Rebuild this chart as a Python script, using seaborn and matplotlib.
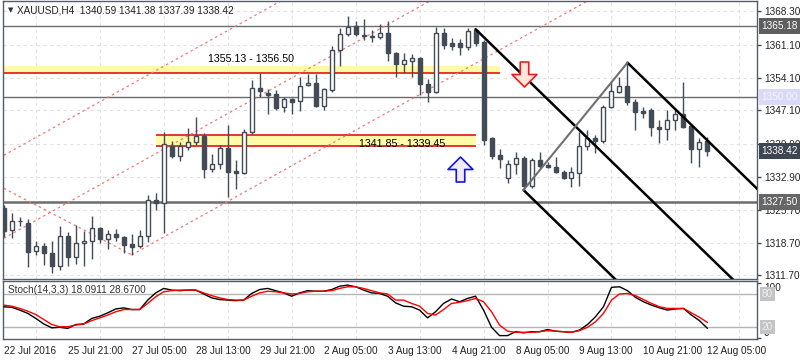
# XAUUSD H4 chart with pitchfork and stochastic panel, MT4 look.

import numpy as np
import pandas as pd
import seaborn as sns
import matplotlib
matplotlib.use('Agg')
import matplotlib.pyplot as plt
import matplotlib.transforms as mtransforms
from matplotlib.path import Path

sns.set_style('white')
plt.rcParams['font.family'] = ['Liberation Sans', 'DejaVu Sans']

symbol_title = 'XAUUSD,H4  1340.59 1341.38 1337.39 1338.42'

opens = [1326.09, 1321.43, 1323.26, 1322.87, 1316.86, 1318.00, 1316.44, 1313.78, 1320.08, 1315.58,
         1318.58, 1319.01, 1321.80, 1319.43, 1320.51, 1320.00, 1318.43, 1317.94, 1320.08, 1327.80,
         1327.16, 1339.38, 1337.37, 1339.17, 1340.24, 1341.65, 1334.45, 1335.65, 1338.95, 1334.02,
         1333.72, 1342.38, 1351.82, 1350.75, 1350.53, 1347.75, 1349.53, 1349.10, 1352.46, 1352.89,
         1348.09, 1351.46, 1360.03, 1363.40, 1365.18, 1363.25, 1363.10, 1362.76, 1363.61, 1359.33,
         1356.97, 1357.74, 1358.25, 1352.74, 1350.96, 1363.61, 1361.47, 1361.47, 1360.61, 1364.32,
         1361.81, 1341.10, 1337.52, 1332.52, 1335.59, 1336.81, 1330.93, 1336.44, 1335.37, 1334.88,
         1333.93, 1332.52, 1333.59, 1339.51, 1341.10, 1340.58, 1347.75, 1351.09, 1352.31, 1348.95,
         1346.95, 1347.17, 1343.46, 1343.03, 1345.02, 1346.24, 1343.73, 1338.74, 1340.59]
highs = [1326.79, 1325.01, 1324.28, 1323.79, 1319.14, 1318.58, 1319.14, 1322.29, 1321.07, 1322.44,
         1321.22, 1324.43, 1322.01, 1321.50, 1321.65, 1320.15, 1320.51, 1321.43, 1328.87, 1329.43,
         1342.38, 1340.58, 1340.37, 1343.24, 1345.60, 1342.17, 1337.73, 1339.66, 1343.95, 1336.44,
         1343.09, 1353.60, 1355.04, 1351.67, 1351.46, 1349.95, 1349.68, 1354.18, 1354.89, 1354.89,
         1351.88, 1360.89, 1364.75, 1367.32, 1366.32, 1366.62, 1364.32, 1365.61, 1366.32, 1359.60,
         1359.33, 1359.18, 1358.53, 1353.75, 1365.03, 1364.69, 1362.61, 1362.33, 1364.69, 1364.50,
         1362.18, 1341.38, 1338.74, 1336.44, 1338.16, 1337.30, 1336.81, 1338.09, 1336.08, 1337.15,
         1334.30, 1334.88, 1342.51, 1342.88, 1341.80, 1348.24, 1353.24, 1354.31, 1357.31, 1349.46,
         1347.87, 1347.60, 1345.02, 1347.17, 1347.17, 1353.24, 1344.16, 1341.10, 1341.38]
lows = [1320.00, 1319.65, 1322.29, 1313.56, 1316.07, 1313.93, 1312.27, 1312.85, 1313.78, 1314.14,
        1313.78, 1315.15, 1318.58, 1317.42, 1319.14, 1316.56, 1316.10, 1317.51, 1318.92, 1325.72,
        1320.85, 1336.94, 1336.29, 1338.59, 1339.66, 1332.52, 1333.93, 1334.45, 1328.44, 1330.16,
        1333.44, 1342.02, 1349.89, 1346.31, 1347.17, 1346.67, 1346.24, 1346.89, 1352.31, 1347.81,
        1347.17, 1351.09, 1356.60, 1363.04, 1363.04, 1362.18, 1361.81, 1362.39, 1357.74, 1354.18,
        1355.04, 1354.31, 1350.38, 1348.95, 1350.81, 1360.18, 1360.03, 1358.90, 1360.03, 1360.89,
        1339.66, 1336.59, 1334.66, 1331.45, 1333.44, 1330.00, 1330.37, 1334.73, 1334.66, 1333.59,
        1332.43, 1330.59, 1330.93, 1338.59, 1338.01, 1340.03, 1347.53, 1350.75, 1348.24, 1342.88,
        1345.39, 1341.59, 1340.03, 1340.73, 1342.88, 1343.31, 1335.74, 1334.88, 1337.39]
closes = [1321.28, 1323.30, 1323.37, 1316.78, 1317.94, 1316.44, 1313.78, 1320.08, 1315.58, 1318.58,
          1319.07, 1321.80, 1319.50, 1320.51, 1320.00, 1318.28, 1317.85, 1320.08, 1327.80, 1327.16,
          1339.81, 1337.37, 1339.45, 1340.24, 1341.65, 1334.45, 1335.65, 1338.95, 1333.93, 1333.72,
          1342.38, 1351.82, 1351.31, 1350.45, 1347.66, 1349.46, 1348.82, 1352.25, 1352.89, 1348.09,
          1351.61, 1360.03, 1363.40, 1365.03, 1363.40, 1363.04, 1362.89, 1363.61, 1359.33, 1356.97,
          1357.89, 1358.25, 1352.74, 1350.96, 1363.61, 1361.11, 1360.96, 1360.74, 1364.17, 1361.60,
          1340.73, 1337.37, 1336.59, 1335.59, 1336.81, 1330.93, 1336.44, 1335.22, 1335.01, 1333.81,
          1332.52, 1333.81, 1339.51, 1341.10, 1340.58, 1347.75, 1351.31, 1352.31, 1348.95, 1346.80,
          1346.46, 1343.46, 1343.03, 1345.02, 1346.24, 1343.58, 1338.74, 1340.37, 1338.42]

stoch_k = [57, 56, 51, 45, 36, 26, 19, 20, 18, 25, 26, 36, 40, 46, 53, 55, 52, 52, 69, 82,
           90, 87, 86, 87, 87, 80, 73, 70, 69, 68, 69, 81, 88, 90, 86, 82, 76, 82, 86, 85,
           85, 88, 94, 96, 93, 87, 82, 81, 76, 64, 58, 57, 51, 37, 48, 63, 71, 66, 72, 76,
           51, 20, 5, 5, 12, 10, 12, 12, 16, 13, 12, 11, 15, 25, 39, 57, 92, 93, 86, 74,
           66, 60, 55, 51, 53, 54, 42, 32, 18.09]
stoch_d = [60, 58, 54, 49, 43, 34, 25, 21, 21, 24, 26, 32, 37, 42, 48, 52, 52, 52, 63, 75,
           84, 86, 87, 87, 87, 82, 77, 73, 70, 69, 69, 76, 82, 85, 84, 82, 80, 81, 84, 85,
           85, 86, 90, 93, 93, 90, 86, 82, 80, 69, 69, 63, 58, 45, 42, 52, 63, 65, 68, 72,
           66, 48, 24, 13, 11, 11, 11, 12, 14, 13, 12, 11, 14, 20, 30, 45, 69, 80, 81, 77,
           70, 63, 57, 54, 54, 54, 46, 38, 28.67]

date_labels = ['22 Jul 2016', '25 Jul 21:00', '27 Jul 05:00', '28 Jul 13:00', '29 Jul 21:00',
               '2 Aug 05:00', '3 Aug 13:00', '4 Aug 21:00', '8 Aug 05:00', '9 Aug 13:00',
               '10 Aug 21:00', '12 Aug 05:00']
price_ticks = [1311.70, 1318.70, 1325.70, 1332.90, 1339.90, 1347.10, 1354.10, 1361.10, 1368.30]

# horizontal levels and zones
levels = [1365.18, 1350.00, 1327.50]
zone_hi = (1355.13, 1356.50)
zone_lo = (1339.45, 1341.85)
# pitchfork anchors (bar) and red channel
pf_bars = [59, 65, 78]
chan_starts = [(0, 1337.45), (0, 1319.65), (16, 1316.10)]
chan_slope = 0.955
chan_handle = [(0, 1330.37), (16, 1316.10)]
# signal arrows (bar, price)
sell_arrow = (65, 1354.9)
buy_arrow = (57, 1334.5)

dark = '#434b57'
n = len(opens)
df = pd.DataFrame({'bar': np.arange(n), 'open': opens, 'high': highs, 'low': lows, 'close': closes})

fig = plt.figure(figsize=(8, 3.6), dpi=100)
ax = fig.add_axes([3/800, 1-279/360, 754/800, 278/360])
ax2 = fig.add_axes([3/800, 1-339/360, 754/800, 58/360])

xmin, xmax = -0.1, 94.2
ax.set_xlim(xmin, xmax)
ax.set_ylim(1310.92, 1370.54)

# grid
grid_bars = list(range(4, 95, 8))
ax.set_xticks(grid_bars)
ax.tick_params(axis='x', length=0, labelbottom=False)
ax.grid(True, ls=(0, (3, 3)), color='#e2e2e2', lw=0.8, zorder=0)
ax.set_axisbelow(True)

# zones
ax.fill_between([xmin, 62], zone_hi[0], zone_hi[1], color='#fffaa8', lw=0, zorder=1)
ax.hlines(zone_hi[0], xmin, 62, color='#e00000', lw=1.1, zorder=2)
ax.fill_between([19, 59], zone_lo[0], zone_lo[1], color='#fffaa8', lw=0, zorder=1)
ax.hlines(list(zone_lo), 19, 59, color='#e00000', lw=1.1, zorder=2)
ax.text(25.5, 1358.0, '1355.13 - 1356.50', fontsize=7.7, va='center', ha='left', color='black', zorder=6)
ax.text(44.4, 1339.95, '1341.85 - 1339.45', fontsize=7.7, va='center', ha='left', color='black', zorder=6)

# levels
for lv, w in zip(levels, [1.0, 1.0, 1.8]):
    ax.axhline(lv, color='#6c6c6c', lw=w, zorder=2)

# red channel
for b0, p0 in chan_starts:
    ax.plot([b0, 100], [p0, p0 + chan_slope*(100-b0)], color='#f07878', lw=0.9,
            dashes=(2, 2.5), zorder=2)
ax.plot([chan_handle[0][0], chan_handle[1][0]], [chan_handle[0][1], chan_handle[1][1]],
        color='#f07878', lw=0.9, dashes=(2, 2.5), zorder=2)

# candles
up = df[df['close'] >= df['open']]
dn = df[df['close'] < df['open']]
ax.vlines(df['bar'], df['low'], df['high'], color=dark, lw=1, zorder=3)
ax.bar(up['bar'], (up['close']-up['open']).clip(lower=0.05), bottom=up['open'], width=0.5,
       color='white', edgecolor=dark, lw=1, zorder=4)
ax.bar(dn['bar'], dn['open']-dn['close'], bottom=dn['close'], width=0.5,
       color=dark, edgecolor=dark, lw=1, zorder=4)

# pitchfork
pf_prices = [highs[pf_bars[0]], lows[pf_bars[1]], highs[pf_bars[2]]]
mid_b = (pf_bars[1]+pf_bars[2])/2
mid_p = (pf_prices[1]+pf_prices[2])/2
slope = (mid_p-pf_prices[0])/(mid_b-pf_bars[0])
for b, p in zip(pf_bars, pf_prices):
    ax.plot([b, 110], [p, p+slope*(110-b)], color='black', lw=1.8, zorder=5)
ax.plot(pf_bars[1:], pf_prices[1:], color='#707070', lw=1.5, zorder=5)

# arrows as block-arrow markers
down_verts = [(-0.17, 0.5), (0.17, 0.5), (0.17, 0.0), (0.5, 0.0), (0.0, -0.5),
              (-0.5, 0.0), (-0.17, 0.0), (-0.17, 0.5)]
down_arrow = Path(down_verts, closed=True)
up_arrow = Path([(x, -y) for x, y in down_verts], closed=True)
ax.plot([sell_arrow[0]], [sell_arrow[1]], marker=down_arrow, markersize=18, mfc='#ffe6d8',
        mec='#ee1c1c', mew=1.2, zorder=6)
ax.plot([buy_arrow[0]], [buy_arrow[1]], marker=up_arrow, markersize=18, mfc='#f0eaff',
        mec='#1414e6', mew=1.2, zorder=6)

# title
ax.text(0.006, 0.967, '\u25bc', transform=ax.transAxes, fontsize=5, color='#333333',
        va='center', family='DejaVu Sans')
ax.text(0.019, 0.967, symbol_title, transform=ax.transAxes, fontsize=7.2, color='#222222', va='center')

# right price axis
ax.yaxis.tick_right()
ax.set_yticks(price_ticks)
ax.set_yticklabels([f'{v:.2f}' for v in price_ticks])
ax.tick_params(axis='y', length=3, width=1, color=dark, labelsize=7.2, pad=2, labelcolor='#222222')
trans = mtransforms.blended_transform_factory(ax.transAxes, ax.transData)
for price, fc, tc in [(1365.18, '#5e5e5e', 'white'), (1350.00, '#dadaf6', '#f4f4ff'),
                      (1338.42, '#3e4652', 'white'), (1327.50, '#666666', 'white')]:
    ax.text(1.006, price, f'{price:.2f}', transform=trans, fontsize=7.2, color=tc, va='center',
            ha='left', bbox=dict(boxstyle='square,pad=0.3', fc=fc, ec='none'), clip_on=False, zorder=10)

for a in (ax, ax2):
    for s in a.spines.values():
        s.set_color('#555c66')
        s.set_linewidth(1)

# stochastic
bars = np.arange(n)
sns.lineplot(x=bars, y=stoch_k, ax=ax2, color='black', lw=1, zorder=4)
sns.lineplot(x=bars, y=stoch_d, ax=ax2, color='#ff0000', lw=1, zorder=5)
ax2.set_xlim(xmin, xmax)
ax2.set_ylim(-1.1, 103.4)
ax2.axhline(80, color='#b4b4b4', lw=1, zorder=2)
ax2.axhline(20, color='#b4b4b4', lw=1, zorder=2)
ax2.set_xticks(range(0, 89, 8))
ax2.set_xticklabels(date_labels, ha='left')
ax2.set_xticks(grid_bars, minor=True)
ax2.tick_params(axis='x', which='major', length=3, width=1, color=dark, labelsize=7.2, pad=2,
                labelcolor='#222222')
ax2.tick_params(axis='x', which='minor', length=0)
ax2.grid(True, which='minor', axis='x', ls=(0, (3, 3)), color='#e2e2e2', lw=0.8)
ax2.set_axisbelow(True)
ax2.yaxis.tick_right()
ax2.set_yticks([0, 100])
ax2.set_yticklabels(['0', '100'])
for lab, v in zip(ax2.get_yticklabels(), ['bottom', 'top']):
    lab.set_va(v)
ax2.tick_params(axis='y', length=3, width=1, color=dark, labelsize=7.2, pad=2, labelcolor='#222222')
trans2 = mtransforms.blended_transform_factory(ax2.transAxes, ax2.transData)
for lv in (80, 20):
    ax2.text(1.006, lv, str(lv), transform=trans2, fontsize=7.2, color='#eeeeee', va='center', ha='left',
             bbox=dict(boxstyle='square,pad=0.2', fc='#c4c4c4', ec='none'), clip_on=False, zorder=10)
ax2.set_xlabel('')
ax2.set_ylabel('')
ax2.text(0.007, 0.84, 'Stoch(14,3,3) 18.0911 28.6700', transform=ax2.transAxes, fontsize=7.2,
         color='#333333', va='center')

fig.savefig('out.png', dpi=100)
